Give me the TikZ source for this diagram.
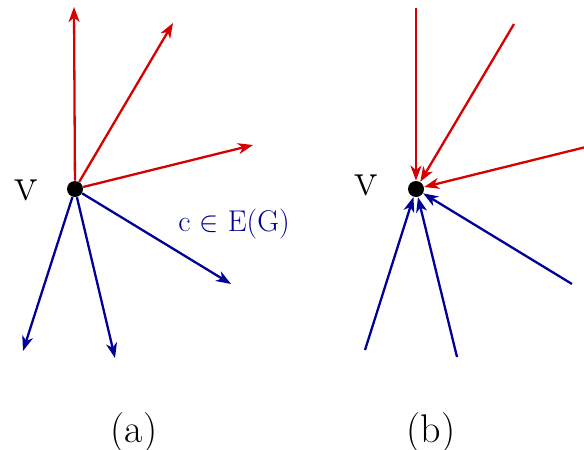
\documentclass[tikz,border=0pt]{standalone}
\usetikzlibrary{arrows.meta}

\definecolor{outred}{RGB}{215,0,0}
\definecolor{inblue}{RGB}{0,0,150}

\begin{document}
\begin{tikzpicture}[
        x=0.5pt, y=-0.5pt,
        >={Stealth[length=7.5pt,width=5.5pt,inset=2.2pt]},
        vertex/.style={
            circle,
            fill=black,
            inner sep=0pt,
            minimum size=8pt
        },
        vlabel/.style={
            font=\fontsize{24}{24}\selectfont,
            inner sep=0pt
        },
        caption/.style={
            font=\fontsize{20}{20}\selectfont,
            inner sep=0pt
        },
        outarrow/.style={->, line width=1.15pt, draw=outred},
        inarrow/.style={->, line width=1.15pt, draw=inblue}
    ]

    \useasboundingbox (0,0) rectangle (584,450);

    % (a)
    \node[vertex] (va) at (75, 189) {};
    \node[vlabel] (la) at (26, 190) {v};
    \node[font=\fontsize{15}{15}\selectfont, text=inblue, inner sep=0pt] (ce) at (234, 224) {c $\in$ E(G)};
    \node[caption] (ca) at (134, 433) {(a)};

    \coordinate (a1) at (74, 7);
    \coordinate (a2) at (173, 23);
    \coordinate (a3) at (253, 145);
    \coordinate (a4) at (23, 351);
    \coordinate (a5) at (115, 358);
    \coordinate (a6) at (231, 284);

    \draw[outarrow] (va) -- (a1);
    \draw[outarrow] (va) -- (a2);
    \draw[outarrow] (va) -- (a3);
    \draw[inarrow] (va) -- (a4);
    \draw[inarrow] (va) -- (a5);
    \draw[inarrow] (va) -- (a6);

    % (b)
    \node[vertex] (vb) at (416, 189) {};
    \node[vlabel] (lb) at (366, 185) {v};
    \node[caption] (cb) at (431, 433) {(b)};

    \coordinate (b1) at (416, 8);
    \coordinate (b2) at (514, 24);
    \coordinate (b3) at (594, 145);
    \coordinate (b4) at (365, 350);
    \coordinate (b5) at (457, 357);
    \coordinate (b6) at (572, 284);

    \draw[outarrow] (b1) -- (vb);
    \draw[outarrow] (b2) -- (vb);
    \draw[outarrow] (b3) -- (vb);
    \draw[inarrow] (b4) -- (vb);
    \draw[inarrow] (b5) -- (vb);
    \draw[inarrow] (b6) -- (vb);

\end{tikzpicture}
\end{document}
